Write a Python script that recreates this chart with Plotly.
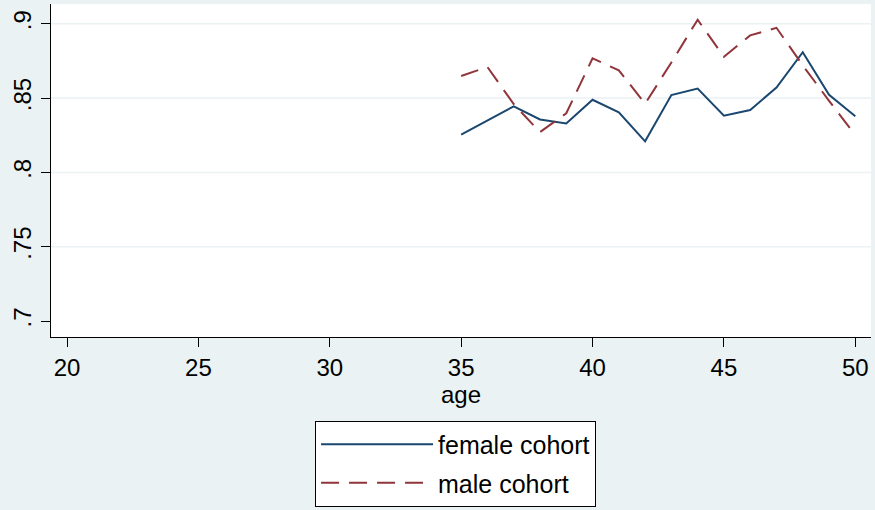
import plotly.graph_objects as go

age = [35, 36, 37, 38, 39, 40, 41, 42, 43, 44, 45, 46, 47, 48, 49, 50]
female_cohort = [0.8255, 0.8349, 0.8444, 0.8356, 0.8329, 0.8489, 0.8404, 0.8209,
                 0.8520, 0.8564, 0.8382, 0.8420, 0.8571, 0.8809, 0.8522, 0.8378]
male_cohort = [0.8649, 0.8709, 0.8460, 0.8271, 0.8398, 0.8767, 0.8687, 0.8462,
               0.8740, 0.9027, 0.8778, 0.8922, 0.8973, 0.8720, 0.8482, 0.8250]

x_ticks = [20, 25, 30, 35, 40, 45, 50]
y_ticks = [0.7, 0.75, 0.8, 0.85, 0.9]
y_tick_labels = [".7", ".75", ".8", ".85", ".9"]
y_grid = [0.75, 0.8, 0.85, 0.9]

BG = "#eaf2f3"
NAVY = "#1a476f"
MAROON = "#90353b"
FONT = "Liberation Sans, Arial, sans-serif"

fig = go.Figure()
fig.add_trace(go.Scatter(x=age, y=female_cohort, mode="lines", name="female cohort",
                         line=dict(color=NAVY, width=2), legendgroup="f"))
fig.add_trace(go.Scatter(x=age, y=male_cohort, mode="lines", name="male cohort",
                         line=dict(color=MAROON, width=2, dash="18px,10px"), legendgroup="m"))

for v in y_grid:
    fig.add_hline(y=v, line=dict(color=BG, width=1.5), layer="below")

fig.update_layout(
    width=875, height=510,
    margin=dict(l=51, r=4, t=4, b=170),
    paper_bgcolor=BG, plot_bgcolor="white",
    font=dict(family=FONT, size=24, color="black"),
    xaxis=dict(range=[19.391, 50.597], tickvals=x_ticks, ticks="outside", ticklen=9,
               tickcolor="black", tickwidth=1, showline=True, linecolor="black", linewidth=1,
               showgrid=False, zeroline=False, tickfont=dict(size=24),
               title=dict(text="age", font=dict(size=24), standoff=0)),
    yaxis=dict(range=[0.6893, 0.9133], tickvals=y_ticks, ticktext=y_tick_labels,
               ticks="outside", ticklen=9, tickcolor="black", tickwidth=1, tickangle=-90,
               showline=True, linecolor="black", linewidth=1, showgrid=False, zeroline=False,
               tickfont=dict(size=24)),
    showlegend=True,
    legend=dict(x=0.322, y=-0.251, xanchor="left", yanchor="top", bgcolor="white",
                bordercolor="black", borderwidth=1, font=dict(size=25),
                tracegroupgap=3, itemwidth=112),
)

fig.write_html("out.html", config={"displayModeBar": False},
               post_script="document.body.style.margin='0';document.body.style.overflow='hidden';")
